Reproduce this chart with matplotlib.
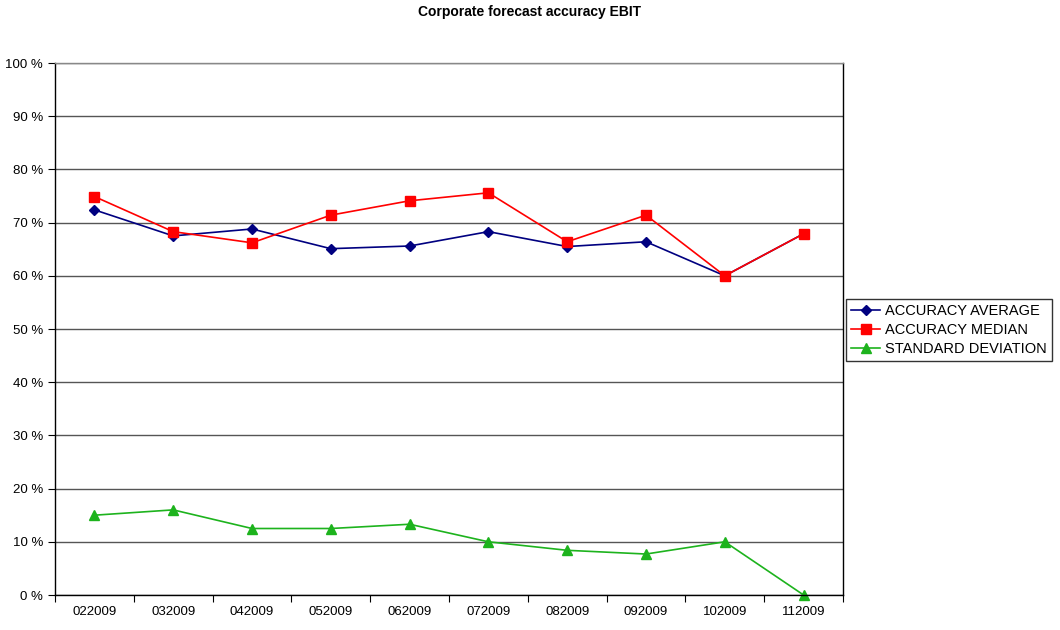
import matplotlib.pyplot as plt
from matplotlib.ticker import FuncFormatter, FixedLocator

plt.rcParams['font.family'] = ['Liberation Sans', 'DejaVu Sans']

months = ['022009', '032009', '042009', '052009', '062009',
          '072009', '082009', '092009', '102009', '112009']
accuracy_average = [72.4, 67.5, 68.8, 65.1, 65.6, 68.3, 65.5, 66.4, 60.0, 67.9]
accuracy_median = [74.9, 68.3, 66.2, 71.4, 74.1, 75.6, 66.4, 71.4, 60.0, 67.9]
standard_deviation = [15.0, 16.0, 12.5, 12.5, 13.3, 10.0, 8.4, 7.7, 10.0, 0.0]

fig = plt.figure(figsize=(10.6, 6.3), dpi=100)
ax = fig.add_axes([55 / 1060, 35 / 630, 788 / 1060, 532 / 630])

x = list(range(len(months)))
ax.plot(x, accuracy_average, color='#000080', marker='D', markersize=5.5,
        linewidth=1.2, label='ACCURACY AVERAGE')
ax.plot(x, accuracy_median, color='#FF0000', marker='s', markersize=6.5,
        linewidth=1.2, label='ACCURACY MEDIAN')
ax.plot(x, standard_deviation, color='#1DB31D', marker='^', markersize=6.5,
        linewidth=1.2, label='STANDARD DEVIATION', clip_on=False)

ax.set_ylim(0, 100)
ax.set_xlim(-0.5, len(months) - 0.5)
ax.set_yticks(range(0, 101, 10))
ax.yaxis.set_major_formatter(FuncFormatter(lambda v, p: '%d %%' % v))
ax.grid(axis='y', color='#555555', linewidth=1.0)
ax.set_axisbelow(True)

# category boundaries get the ticks, labels sit at the centres
ax.xaxis.set_major_locator(FixedLocator([i - 0.5 for i in range(len(months) + 1)]))
ax.xaxis.set_minor_locator(FixedLocator(x))
ax.set_xticklabels([], minor=False)
ax.set_xticklabels(months, minor=True)
ax.tick_params(axis='x', which='major', length=5, direction='out', color='black')
ax.tick_params(axis='x', which='minor', length=0, pad=8, labelsize=9.5)
ax.tick_params(axis='y', length=5, direction='out', labelsize=9.5)

for s in ax.spines.values():
    s.set_color('black')
    s.set_linewidth(1.0)
ax.spines['top'].set_color('#888888')

fig.text(0.5, 1 - 12 / 630, 'Corporate forecast accuracy EBIT', fontsize=10,
         fontweight='bold', ha='center', va='center')

fig.legend(loc='center left', bbox_to_anchor=(846 / 1060, (630 - 330) / 630),
           fontsize=10.5, frameon=True, fancybox=False, edgecolor='black',
           handlelength=2.0, borderpad=0.35, labelspacing=0.32, handletextpad=0.3,
           borderaxespad=0)

fig.savefig('out.png', dpi=100)
